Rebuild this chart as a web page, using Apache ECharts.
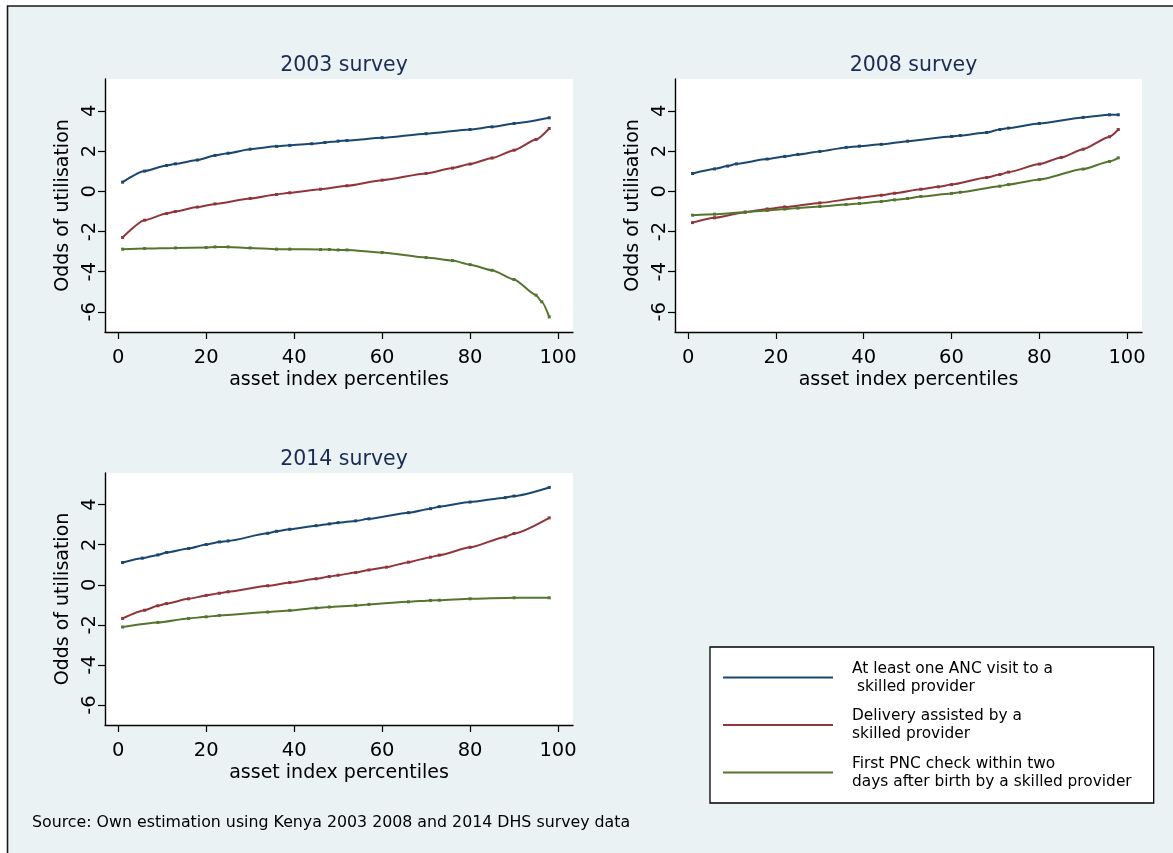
<!DOCTYPE html>
<html>
<head>
<meta charset="utf-8">
<script src="https://cdn.jsdelivr.net/npm/echarts@6/dist/echarts.min.js"></script>
<style>
  html, body { margin: 0; padding: 0; background: #ffffff; }
  #chart { width: 1173px; height: 853px; }
</style>
</head>
<body>
<div id="chart"></div>
<script>
// Predicted odds of utilisation by asset index percentile, Kenya DHS surveys.
const seriesNames = [
  'At least one ANC visit to a\n skilled provider',
  'Delivery assisted by a\nskilled provider',
  'First PNC check within two\ndays after birth by a skilled provider'
];
const panelTitles = ['2003 survey', '2008 survey', '2014 survey'];
const xTicks = [0, 20, 40, 60, 80, 100];
const yTicks = [-6, -4, -2, 0, 2, 4];

// 2003 survey: [percentile, odds]
const anc2003 = [[1, 0.45], [6, 1.0], [11, 1.28], [13, 1.36], [18, 1.55], [22, 1.78], [25, 1.89], [30, 2.09],
  [36, 2.23], [39, 2.28], [44, 2.36], [47, 2.42], [50, 2.49], [52, 2.52], [60, 2.66], [70, 2.86], [80, 3.07],
  [85, 3.2], [90, 3.37], [98, 3.65]];
const delivery2003 = [[1, -2.3], [6, -1.44], [11, -1.11], [13, -1.01], [18, -0.79], [22, -0.63], [30, -0.36],
  [36, -0.16], [39, -0.08], [46, 0.1], [52, 0.27], [60, 0.55], [70, 0.88], [76, 1.15], [80, 1.35], [85, 1.65],
  [90, 2.04], [95, 2.57], [98, 3.12]];
const pnc2003 = [[1, -2.88], [6, -2.85], [13, -2.82], [20, -2.8], [22, -2.77], [25, -2.77], [30, -2.82],
  [36, -2.88], [39, -2.88], [46, -2.9], [48, -2.9], [50, -2.92], [52, -2.92], [60, -3.05], [70, -3.3],
  [76, -3.45], [80, -3.65], [85, -3.93], [90, -4.39], [95, -5.17], [96.3, -5.5], [98, -6.25]];

// 2008 survey
const anc2008 = [[1, 0.88], [6, 1.11], [9, 1.25], [11, 1.36], [18, 1.6], [22, 1.73], [25, 1.83], [30, 1.98],
  [36, 2.18], [39, 2.24], [44, 2.33], [50, 2.49], [60, 2.72], [62, 2.77], [68, 2.92], [71, 3.07], [73, 3.14],
  [80, 3.37], [90, 3.67], [96, 3.8], [98, 3.8]];
const delivery2008 = [[1, -1.56], [6, -1.32], [13, -1.04], [18, -0.88], [22, -0.78], [30, -0.58], [39, -0.33],
  [44, -0.2], [47, -0.1], [53, 0.1], [57, 0.22], [60, 0.33], [68, 0.68], [71, 0.83], [73, 0.95], [80, 1.35],
  [85, 1.68], [90, 2.09], [96, 2.71], [98, 3.07]];
const pnc2008 = [[1, -1.19], [6, -1.14], [13, -1.04], [18, -0.96], [22, -0.89], [25, -0.84], [30, -0.76],
  [36, -0.66], [39, -0.61], [44, -0.51], [47, -0.43], [50, -0.36], [53, -0.26], [60, -0.11], [62, -0.05],
  [71, 0.25], [73, 0.33], [80, 0.58], [90, 1.1], [96, 1.48], [98, 1.66]];

// 2014 survey
const anc2014 = [[1, 1.11], [5.5, 1.33], [9, 1.49], [11, 1.61], [16, 1.81], [20, 2.01], [23, 2.14], [25, 2.19],
  [34, 2.57], [36, 2.67], [39, 2.77], [45, 2.95], [48, 3.04], [50, 3.1], [54, 3.19], [57, 3.29], [66, 3.6],
  [71, 3.8], [73, 3.9], [80, 4.13], [88, 4.35], [90, 4.43], [98, 4.86]];
const delivery2014 = [[1, -1.68], [6, -1.27], [9, -1.05], [11, -0.94], [16, -0.7], [20, -0.53], [23, -0.42],
  [25, -0.35], [34, -0.05], [39, 0.11], [45, 0.3], [48, 0.41], [50, 0.48], [54, 0.61], [57, 0.74], [61, 0.88],
  [66, 1.13], [71, 1.38], [73, 1.48], [80, 1.87], [88, 2.39], [90, 2.56], [98, 3.34]];
const pnc2014 = [[1, -2.11], [9, -1.88], [16, -1.68], [20, -1.6], [23, -1.53], [34, -1.36], [39, -1.28],
  [45, -1.16], [48, -1.11], [54, -1.03], [57, -0.98], [66, -0.85], [71, -0.78], [73, -0.77], [80, -0.7],
  [90, -0.65], [98, -0.65]];

const panelData = [
  [anc2003, delivery2003, pnc2003],
  [anc2008, delivery2008, pnc2008],
  [anc2014, delivery2014, pnc2014]
];

const colors = ['#1a476f', '#90353b', '#55752f'];
const font = '"DejaVu Sans", Verdana, sans-serif';

// Plot regions for the three panels
const grids = [
  { left: 105, top: 79, width: 468, height: 253 },
  { left: 675, top: 79, width: 467, height: 253 },
  { left: 105, top: 473, width: 468, height: 252 }
];

const chart = echarts.init(document.getElementById('chart'), null, { renderer: 'canvas' });

const option = {
  backgroundColor: '#ffffff',
  animation: false,
  color: colors,
  graphic: [
    {
      type: 'rect', z: -10, silent: true,
      shape: { x: 7.5, y: 6, width: 1175, height: 860 },
      style: { fill: '#eaf2f3', stroke: '#1a1a1a', lineWidth: 1.6 }
    },
    {
      type: 'text', silent: true, x: 32, y: 822.5,
      style: { text: 'Source: Own estimation using Kenya 2003 2008 and 2014 DHS survey data',
        font: '15.8px ' + font, fill: '#000', verticalAlign: 'middle' }
    }
  ],
  title: panelTitles.map((t, i) => ({
    text: t,
    left: grids[i].left + grids[i].width / 2,
    top: grids[i].top - 29,
    textAlign: 'center',
    textStyle: { fontFamily: font, fontSize: 20.5, fontWeight: 'normal', color: '#1c2b53' }
  })),
  legend: {
    orient: 'vertical',
    left: 710, top: 647,
    padding: [12.5, 22, 12.5, 13],
    backgroundColor: '#ffffff',
    borderColor: '#000000',
    borderWidth: 1.3,
    itemWidth: 110, itemHeight: 2,
    itemGap: 11.5,
    icon: 'rect',
    data: seriesNames,
    textStyle: { fontFamily: font, fontSize: 15.4, lineHeight: 18, color: '#000', padding: [0, 0, 0, 14] }
  },
  grid: grids.map(g => Object.assign({ show: true, backgroundColor: '#ffffff', borderWidth: 0 }, g)),
  xAxis: grids.map((g, i) => ({
    type: 'value', gridIndex: i, min: -3, max: 103.4,
    name: 'asset index percentiles', nameLocation: 'middle', nameGap: 39,
    nameTextStyle: { fontFamily: font, fontSize: 19, color: '#000' },
    axisLine: { show: true, onZero: false, lineStyle: { color: '#000', width: 1.4 } },
    axisTick: { show: true, length: 7, customValues: xTicks, lineStyle: { color: '#000', width: 1.2 } },
    axisLabel: { customValues: xTicks, margin: 16, fontFamily: font, fontSize: 19.5, color: '#000' },
    splitLine: { show: false }
  })),
  yAxis: grids.map((g, i) => ({
    type: 'value', gridIndex: i, min: -7, max: 5.58,
    name: 'Odds of utilisation', nameLocation: 'middle', nameGap: 32.5, nameRotate: 90,
    nameTextStyle: { fontFamily: font, fontSize: 19, color: '#000' },
    axisLine: { show: true, onZero: false, lineStyle: { color: '#000', width: 1.4 } },
    axisTick: { show: true, length: 7, customValues: yTicks, lineStyle: { color: '#000', width: 1.2 } },
    axisLabel: { customValues: yTicks, rotate: 90, margin: 5.5, fontFamily: font, fontSize: 19.5, color: '#000' },
    splitLine: { show: false }
  })),
  series: []
};

panelData.forEach((set, p) => {
  set.forEach((values, k) => {
    option.series.push({
      type: 'line',
      name: seriesNames[k],
      xAxisIndex: p, yAxisIndex: p,
      data: values,
      smooth: 0.2,
      smoothMonotone: 'x',
      symbol: 'rect',
      symbolSize: 3,
      showSymbol: true,
      itemStyle: { color: colors[k] },
      lineStyle: { color: colors[k], width: 2 }
    });
  });
});

chart.setOption(option);
</script>
</body>
</html>
